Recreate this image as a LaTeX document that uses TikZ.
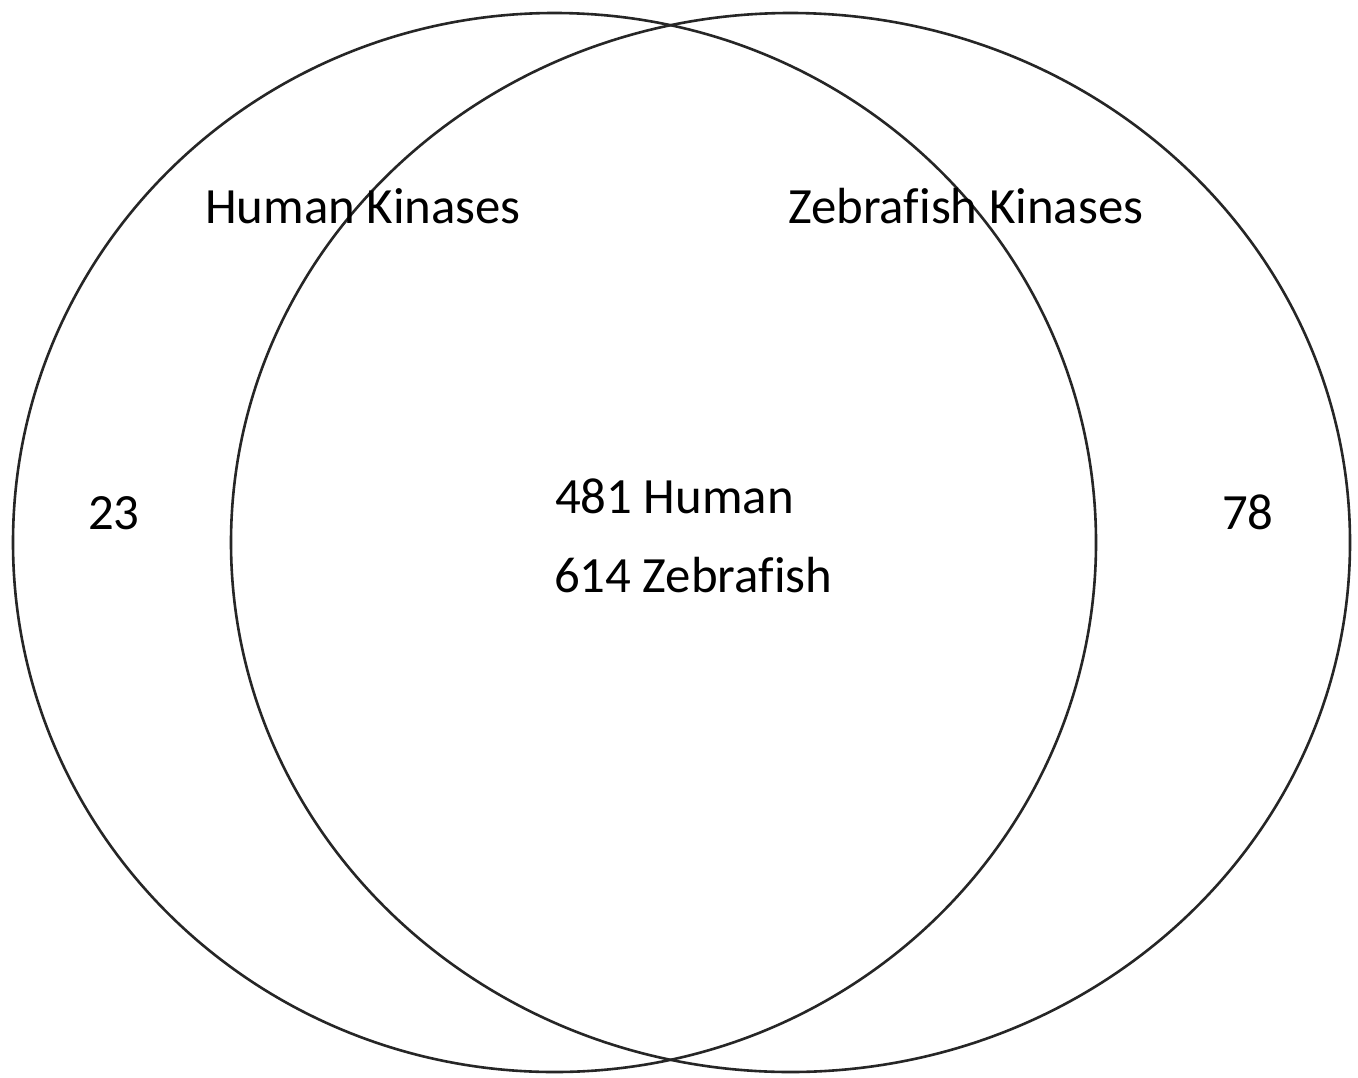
\documentclass[tikz,border=0pt]{standalone}
\usepackage{fontspec}
\setmainfont[Ligatures=NoCommon]{Carlito}
\begin{document}
\begin{tikzpicture}[x=1bp,y=-1bp,
  setring/.style={draw=black!85,line width=2.6bp},
  lab/.style={inner sep=0pt,anchor=base west,font=\fontsize{51}{60}\selectfont},
  num/.style={inner sep=0pt,anchor=base west,font=\fontsize{51}{60}\selectfont}]
\useasboundingbox[fill=white] (0,0) rectangle (1358,1077);
\draw[setring] (554.5,542.5) ellipse [x radius=541.5, y radius=529.5];
\draw[setring] (790.5,542.5) ellipse [x radius=559.5, y radius=529.5];
\node[lab] (hk) at (205,223) {Human Kinases};
\node[lab] (zk) at (788,223) {Zebrafish Kinases};
\node[num] (h481) at (555,513) {481 Human};
\node[num] (z614) at (554,592) {614 Zebrafish};
\node[num] (n23) at (88,529) {23};
\node[num] (n78) at (1222,529) {78};
\end{tikzpicture}
\end{document}
